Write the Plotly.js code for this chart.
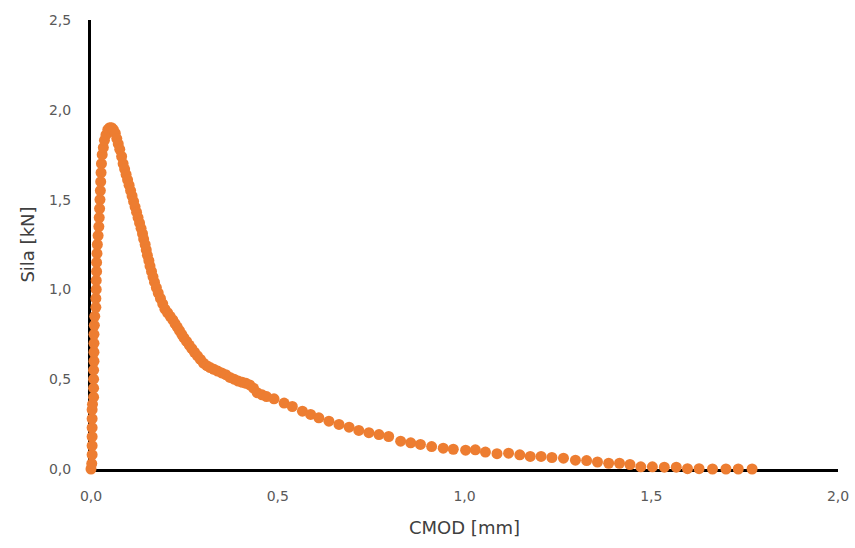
<!DOCTYPE html>
<html>
<head>
<meta charset="utf-8">
<script src="https://cdn.plot.ly/plotly-3.0.1.min.js"></script>
<style>
  html, body { margin: 0; padding: 0; background: #ffffff; }
  #chart { width: 855px; height: 548px; }
</style>
</head>
<body>
<div id="chart"></div>
<script>
// Force vs. crack mouth opening displacement (CMOD) measurement
const cmod = [
  0.000, 0.002, 0.003, 0.003, 0.003, 0.003, 0.003, 0.003, 0.004, 0.007,
  0.007, 0.007, 0.007, 0.008, 0.008, 0.008, 0.008, 0.009, 0.010, 0.013,
  0.013, 0.014, 0.014, 0.015, 0.015, 0.016, 0.017, 0.019, 0.021, 0.022,
  0.023, 0.024, 0.025, 0.026, 0.027, 0.028, 0.030, 0.033, 0.036, 0.040,
  0.045, 0.050, 0.055, 0.060, 0.065, 0.069, 0.073, 0.077, 0.082, 0.086,
  0.090, 0.094, 0.098, 0.102, 0.106, 0.110, 0.114, 0.118, 0.122, 0.126,
  0.130, 0.134, 0.138, 0.141, 0.145, 0.148, 0.151, 0.155, 0.158, 0.162,
  0.166, 0.170, 0.175, 0.180, 0.186, 0.192, 0.198, 0.205, 0.212, 0.219,
  0.225, 0.231, 0.237, 0.243, 0.249, 0.256, 0.263, 0.270, 0.277, 0.285,
  0.293, 0.301, 0.310, 0.319, 0.329, 0.339, 0.350, 0.361, 0.372, 0.383,
  0.394, 0.405, 0.415, 0.425, 0.435, 0.445, 0.458, 0.470, 0.490, 0.517,
  0.539, 0.566, 0.588, 0.610, 0.637, 0.664, 0.691, 0.717, 0.744, 0.771,
  0.797, 0.829, 0.856, 0.882, 0.912, 0.943, 0.970, 1.003, 1.029, 1.056,
  1.087, 1.118, 1.148, 1.176, 1.205, 1.234, 1.265, 1.297, 1.327, 1.356,
  1.386, 1.415, 1.443, 1.472, 1.503, 1.535, 1.567, 1.597, 1.628, 1.664,
  1.700, 1.733, 1.770
];
const sila = [
  0.00, 0.03, 0.08, 0.13, 0.18, 0.23, 0.28, 0.33, 0.36, 0.40,
  0.45, 0.50, 0.55, 0.60, 0.65, 0.70, 0.75, 0.80, 0.85, 0.90,
  0.95, 1.00, 1.05, 1.10, 1.15, 1.20, 1.25, 1.30, 1.35, 1.40,
  1.45, 1.50, 1.55, 1.60, 1.65, 1.70, 1.75, 1.79, 1.83, 1.86,
  1.89, 1.90, 1.90, 1.89, 1.87, 1.84, 1.81, 1.78, 1.74, 1.70,
  1.67, 1.64, 1.61, 1.58, 1.55, 1.52, 1.49, 1.46, 1.43, 1.40,
  1.37, 1.34, 1.31, 1.28, 1.25, 1.22, 1.19, 1.16, 1.13, 1.10,
  1.07, 1.04, 1.01, 0.98, 0.95, 0.92, 0.89, 0.87, 0.85, 0.83,
  0.81, 0.79, 0.77, 0.75, 0.73, 0.71, 0.69, 0.67, 0.65, 0.63,
  0.61, 0.59, 0.575, 0.565, 0.555, 0.545, 0.535, 0.525, 0.510, 0.500,
  0.490, 0.483, 0.477, 0.468, 0.450, 0.425, 0.413, 0.403, 0.391, 0.367,
  0.348, 0.322, 0.304, 0.285, 0.266, 0.248, 0.233, 0.215, 0.202, 0.192,
  0.181, 0.155, 0.146, 0.137, 0.125, 0.116, 0.110, 0.105, 0.107, 0.094,
  0.085, 0.088, 0.079, 0.070, 0.070, 0.064, 0.060, 0.049, 0.047, 0.039,
  0.032, 0.032, 0.025, 0.012, 0.012, 0.010, 0.010, 0.002, 0.002, 0.000,
  0.000, 0.000, 0.000
];

const xTitle = 'CMOD [mm]';
const yTitle = 'Sila [kN]';

const trace = {
  x: cmod,
  y: sila,
  type: 'scatter',
  mode: 'markers',
  cliponaxis: false,
  marker: { color: '#ED7D31', size: 11, line: { width: 0 } },
  hoverinfo: 'x+y'
};

const tickFont = { family: 'DejaVu Sans, Verdana, sans-serif', size: 14, color: '#595959' };
const titleFont = { family: 'DejaVu Sans, Verdana, sans-serif', size: 18, color: '#404040' };

const layout = {
  width: 855,
  height: 548,
  margin: { l: 91, r: 17, t: 20, b: 79 },
  paper_bgcolor: '#ffffff',
  plot_bgcolor: '#ffffff',
  separators: ', ',
  showlegend: false,
  xaxis: {
    range: [0, 2],
    dtick: 0.5,
    tick0: 0,
    tickformat: '.1f',
    showgrid: false,
    zeroline: false,
    showline: true,
    linecolor: '#000000',
    linewidth: 3,
    layer: 'below traces',
    ticks: '',
    ticklabelstandoff: 12,
    tickfont: tickFont,
    title: { text: xTitle, font: titleFont, standoff: 19 }
  },
  yaxis: {
    range: [0, 2.5],
    dtick: 0.5,
    tick0: 0,
    tickformat: '.1f',
    showgrid: false,
    zeroline: false,
    showline: true,
    linecolor: '#000000',
    linewidth: 3,
    layer: 'below traces',
    ticks: '',
    ticklabelstandoff: 14,
    tickfont: tickFont,
    title: { text: yTitle, font: titleFont, standoff: 10 }
  }
};

Plotly.newPlot('chart', [trace], layout, { displayModeBar: false, staticPlot: true });
</script>
</body>
</html>
